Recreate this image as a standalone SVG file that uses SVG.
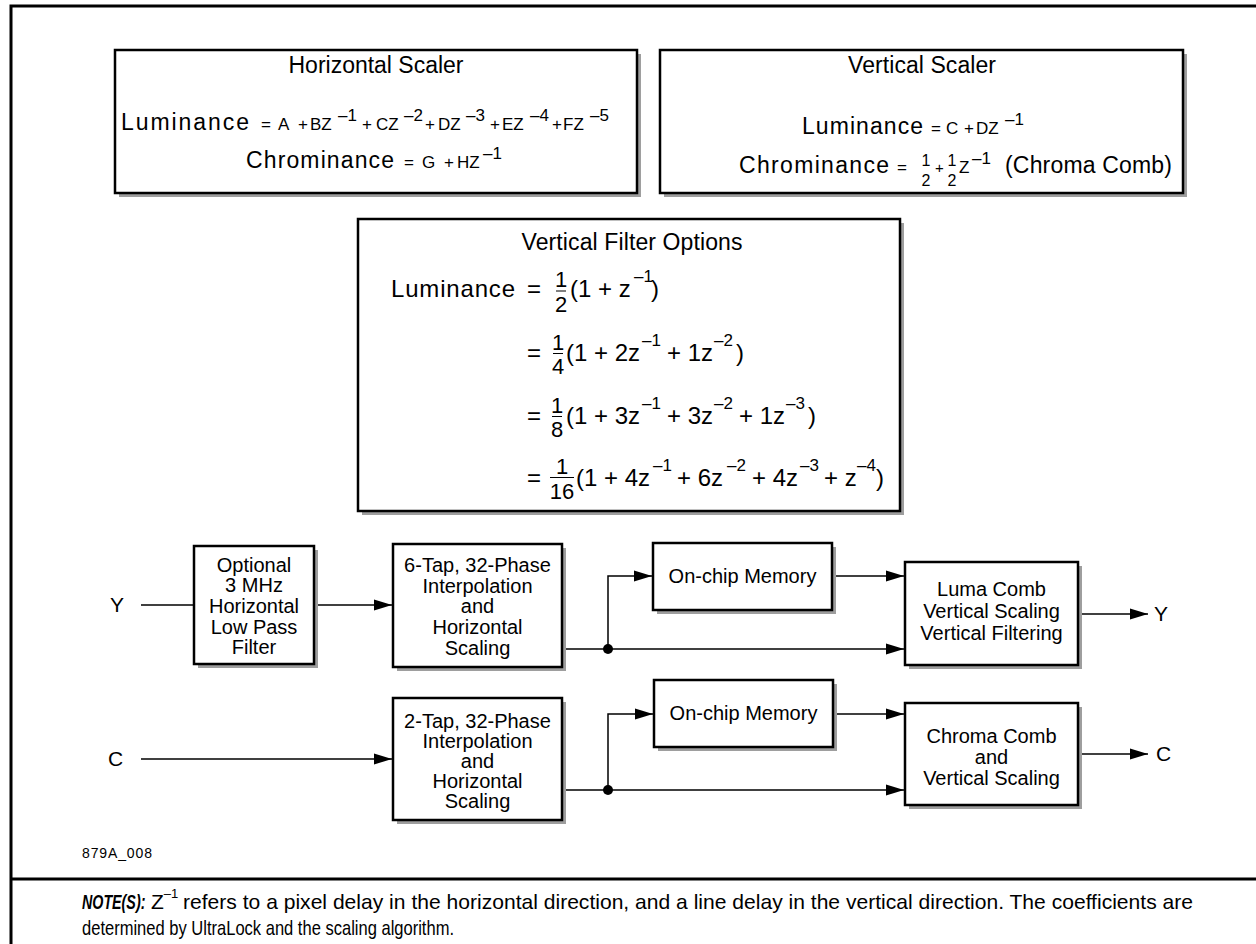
<svg xmlns="http://www.w3.org/2000/svg" width="1256" height="944" viewBox="0 0 1256 944">
<defs>
<marker id="ah" markerWidth="18" markerHeight="12" refX="18" refY="6" orient="auto" markerUnits="userSpaceOnUse"><path d="M0,0.5 L18,6 L0,11.5 Z" fill="#000"/></marker>
</defs>
<style>
text{font-family:"Liberation Sans",Arial,Helvetica,sans-serif;fill:#000}
.box{fill:#fff;stroke:#000;stroke-width:2.5}
.sh{fill:#9e9e9e}
.frame{stroke:#000;stroke-width:3;fill:none}
.ln{stroke:#000;stroke-width:1.5;fill:none}
.arr{stroke:#000;stroke-width:1.5;fill:none;marker-end:url(#ah)}
.bt{font-size:20px;text-anchor:middle}
.ttl{font-size:23px;text-anchor:middle}
.big{font-size:23px}
.eq{font-size:17px}
.sup{font-size:17px}
.vf{font-size:24px}
.fr{font-size:22px;text-anchor:middle}
.bar{stroke:#000;stroke-width:1}
.note{font-family:"Liberation Sans Narrow","Liberation Sans",Arial,sans-serif;font-size:21px}
</style>

<g id="frame">
<path class="frame" d="M11,944 V6 H1256"/>
<path class="frame" d="M11,879 H1256"/>
</g>

<g id="horizontal-scaler">
<rect class="sh" x="119" y="54" width="522" height="143"/>
<rect class="box" x="115" y="50" width="522" height="143"/>
<text class="ttl" x="376" y="73" textLength="175">Horizontal Scaler</text>
<text class="big" x="121" y="130" textLength="128">Luminance</text>
<text class="eq" y="130"><tspan x="261">=</tspan><tspan x="278">A</tspan><tspan x="298">+</tspan><tspan x="310">BZ</tspan><tspan x="362">+</tspan><tspan x="376">CZ</tspan><tspan x="425">+</tspan><tspan x="438">DZ</tspan><tspan x="490">+</tspan><tspan x="502">EZ</tspan><tspan x="552">+</tspan><tspan x="563">FZ</tspan></text>
<text class="sup" y="121"><tspan x="338">–1</tspan><tspan x="404">–2</tspan><tspan x="466">–3</tspan><tspan x="530">–4</tspan><tspan x="590">–5</tspan></text>
<text class="big" x="246" y="168" textLength="148">Chrominance</text>
<text class="eq" y="168"><tspan x="404">=</tspan><tspan x="422">G</tspan><tspan x="444">+</tspan><tspan x="457">HZ</tspan></text>
<text class="sup" x="483" y="159">–1</text>
</g>

<g id="vertical-scaler">
<rect class="sh" x="664" y="54" width="523" height="143"/>
<rect class="box" x="660" y="50" width="523" height="143"/>
<text class="ttl" x="922" y="73" textLength="148">Vertical Scaler</text>
<text class="big" x="802" y="134" textLength="121">Luminance</text>
<text class="eq" y="134"><tspan x="931">=</tspan><tspan x="946">C</tspan><tspan x="964">+</tspan><tspan x="976">DZ</tspan></text>
<text class="sup" x="1005" y="125">–1</text>
<text class="big" x="739" y="173" textLength="150">Chrominance</text>
<text class="eq" x="897" y="173">=</text>
<text style="font-size:16px;text-anchor:middle" x="926" y="166">1</text>
<text style="font-size:16px;text-anchor:middle" x="926" y="186">2</text>
<text style="font-size:15px" x="935" y="173">+</text>
<text style="font-size:16px;text-anchor:middle" x="952" y="166">1</text>
<text style="font-size:16px;text-anchor:middle" x="952" y="186">2</text>
<text class="eq" x="959" y="173">Z</text>
<text class="sup" x="972" y="164">–1</text>
<text style="font-size:23px" x="1005" y="173" textLength="167">(Chroma Comb)</text>
</g>

<g id="vertical-filter-options">
<rect class="sh" x="362" y="223" width="542" height="292"/>
<rect class="box" x="358" y="219" width="542" height="292"/>
<text class="ttl" x="632" y="250" textLength="221">Vertical Filter Options</text>
<text class="vf" x="391" y="297" textLength="124">Luminance</text>
<text class="vf" x="527" y="297">=</text>
<text class="fr" x="561" y="287">1</text><line class="bar" x1="556" y1="291" x2="566" y2="291"/><text class="fr" x="561" y="312">2</text>
<text class="vf" x="570" y="297">(1 + z</text><text class="sup" x="634" y="282">–1</text><text class="vf" x="651" y="297">)</text>

<text class="vf" x="527" y="361">=</text>
<text class="fr" x="558" y="350">1</text><line class="bar" x1="553" y1="353.5" x2="563" y2="353.5"/><text class="fr" x="558" y="374">4</text>
<text class="vf" y="361"><tspan x="566">(1 + 2z</tspan><tspan x="667">+ 1z</tspan><tspan x="736">)</tspan></text>
<text class="sup" y="346"><tspan x="642">–1</tspan><tspan x="714">–2</tspan></text>

<text class="vf" x="527" y="424">=</text>
<text class="fr" x="557" y="413">1</text><line class="bar" x1="552" y1="416.5" x2="562" y2="416.5"/><text class="fr" x="557" y="437">8</text>
<text class="vf" y="424"><tspan x="566">(1 + 3z</tspan><tspan x="667">+ 3z</tspan><tspan x="739">+ 1z</tspan><tspan x="808">)</tspan></text>
<text class="sup" y="409"><tspan x="642">–1</tspan><tspan x="714">–2</tspan><tspan x="786">–3</tspan></text>

<text class="vf" x="527" y="486">=</text>
<text class="fr" x="562" y="474">1</text><line class="bar" x1="550" y1="477.5" x2="574" y2="477.5"/><text class="fr" x="562" y="499">16</text>
<text class="vf" y="486"><tspan x="576">(1 + 4z</tspan><tspan x="677">+ 6z</tspan><tspan x="752">+ 4z</tspan><tspan x="824">+ z</tspan><tspan x="876">)</tspan></text>
<text class="sup" y="471"><tspan x="653">–1</tspan><tspan x="727">–2</tspan><tspan x="800">–3</tspan><tspan x="857">–4</tspan></text>
</g>

<g id="connectors">
<line class="ln" x1="141" y1="605" x2="194" y2="605"/>
<line class="arr" x1="314" y1="605" x2="392" y2="605"/>
<line class="arr" x1="562" y1="649" x2="904" y2="649"/>
<path class="arr" d="M608,649 V576 H652"/>
<line class="arr" x1="832" y1="576" x2="904" y2="576"/>
<line class="arr" x1="1078" y1="614" x2="1148" y2="614"/>
<circle cx="608" cy="649" r="5" fill="#000"/>
<line class="arr" x1="141" y1="759" x2="392" y2="759"/>
<line class="arr" x1="562" y1="790" x2="904" y2="790"/>
<path class="arr" d="M608,790 V714 H653"/>
<line class="arr" x1="833" y1="714" x2="904" y2="714"/>
<line class="arr" x1="1078" y1="754" x2="1148" y2="754"/>
<circle cx="608" cy="790" r="5" fill="#000"/>
</g>

<g id="label-y-in"><text style="font-size:21px" x="110" y="612">Y</text></g>
<g id="label-c-in"><text style="font-size:21px" x="108" y="766">C</text></g>
<g id="label-y-out"><text style="font-size:21px" x="1154" y="621">Y</text></g>
<g id="label-c-out"><text style="font-size:21px" x="1156" y="761">C</text></g>

<g id="optional-lpf">
<rect class="sh" x="198" y="550" width="120" height="118"/>
<rect class="box" x="194" y="546" width="120" height="118"/>
<text class="bt"><tspan x="254" y="572">Optional</tspan><tspan x="254" y="592">3 MHz</tspan><tspan x="254" y="613">Horizontal</tspan><tspan x="254" y="634">Low Pass</tspan><tspan x="254" y="654">Filter</tspan></text>
</g>

<g id="luma-interp">
<rect class="sh" x="397" y="548" width="169" height="123"/>
<rect class="box" x="393" y="544" width="169" height="123"/>
<text class="bt"><tspan x="477.5" y="572">6-Tap, 32-Phase</tspan><tspan x="477.5" y="593">Interpolation</tspan><tspan x="477.5" y="613">and</tspan><tspan x="477.5" y="634">Horizontal</tspan><tspan x="477.5" y="655">Scaling</tspan></text>
</g>

<g id="luma-memory">
<rect class="sh" x="657" y="547" width="179" height="67"/>
<rect class="box" x="653" y="543" width="179" height="67"/>
<text class="bt" x="742.5" y="583">On-chip Memory</text>
</g>

<g id="luma-comb">
<rect class="sh" x="909" y="566" width="173" height="103"/>
<rect class="box" x="905" y="562" width="173" height="103"/>
<text class="bt"><tspan x="991.5" y="596">Luma Comb</tspan><tspan x="991.5" y="618">Vertical Scaling</tspan><tspan x="991.5" y="640">Vertical Filtering</tspan></text>
</g>

<g id="chroma-interp">
<rect class="sh" x="397" y="702" width="169" height="122"/>
<rect class="box" x="393" y="698" width="169" height="122"/>
<text class="bt"><tspan x="477.5" y="728">2-Tap, 32-Phase</tspan><tspan x="477.5" y="748">Interpolation</tspan><tspan x="477.5" y="768">and</tspan><tspan x="477.5" y="788">Horizontal</tspan><tspan x="477.5" y="808">Scaling</tspan></text>
</g>

<g id="chroma-memory">
<rect class="sh" x="658" y="684" width="179" height="67"/>
<rect class="box" x="654" y="680" width="179" height="67"/>
<text class="bt" x="743.5" y="720">On-chip Memory</text>
</g>

<g id="chroma-comb">
<rect class="sh" x="909" y="707" width="173" height="102"/>
<rect class="box" x="905" y="703" width="173" height="102"/>
<text class="bt"><tspan x="991.5" y="743">Chroma Comb</tspan><tspan x="991.5" y="764">and</tspan><tspan x="991.5" y="785">Vertical Scaling</tspan></text>
</g>

<g id="figure-id"><text style="font-size:14px" x="82" y="858" textLength="70">879A_008</text></g>

<g id="note">
<text class="note" transform="translate(82 909) scale(0.68 1)" x="0" y="0" font-weight="bold" font-style="italic">NOTE(S):</text>
<text class="note" x="151" y="909">Z<tspan dy="-11" style="font-size:13px">–1</tspan></text>
<text class="note" x="183" y="909" textLength="1010" lengthAdjust="spacingAndGlyphs">refers to a pixel delay in the horizontal direction, and a line delay in the vertical direction. The coefficients are</text>
<text class="note" x="82" y="935" textLength="372" lengthAdjust="spacingAndGlyphs">determined by UltraLock and the scaling algorithm.</text>
</g>
</svg>
